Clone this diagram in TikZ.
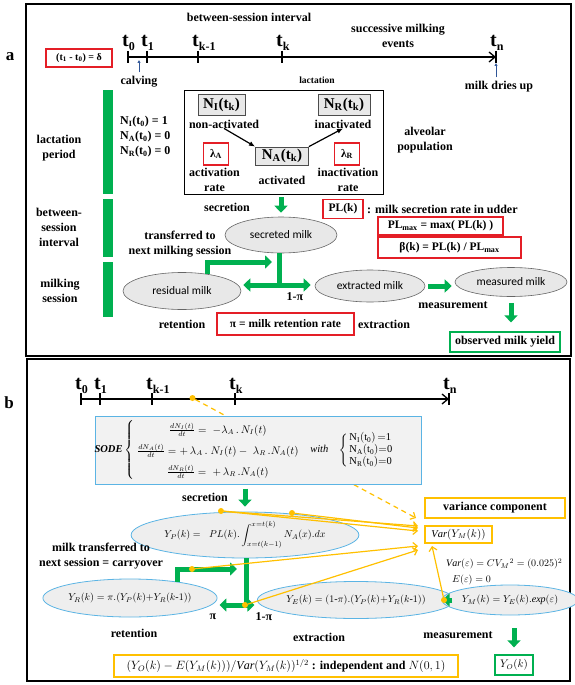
\documentclass[tikz,border=0pt]{standalone}
\usepackage{amsmath}
\usepackage{fontspec}
\setmainfont{Liberation Serif}
\newfontfamily\calfont{Carlito}
\usetikzlibrary{positioning,shapes.geometric,arrows.meta,calc}

\definecolor{verde}{RGB}{0,176,80}
\definecolor{giallo}{RGB}{255,192,0}
\definecolor{celeste}{RGB}{91,180,228}
\definecolor{grigio}{RGB}{232,232,232}
\definecolor{rosso}{RGB}{228,30,38}
\definecolor{blu}{RGB}{47,85,151}

\newcommand\tsub[1]{\raisebox{-4pt}{\fontsize{12}{12}\selectfont #1}}

\tikzset{
  lbl/.style={font=\bfseries\fontsize{12}{15}\selectfont, align=center, inner sep=0pt},
  tlbl/.style={font=\bfseries\fontsize{20}{22}\selectfont, inner sep=0pt, anchor=base west},
  rbox/.style={draw=rosso, line width=1.2pt, inner sep=0pt, font=\bfseries\fontsize{11.5}{13}\selectfont},
  nbox/.style={draw=black!70, fill=grigio, line width=0.8pt, inner sep=0pt, minimum height=21pt, font=\bfseries\fontsize{15}{17}\selectfont},
  latte/.style={ellipse, draw=black!60, fill=grigio, line width=0.6pt, inner sep=0pt, font=\calfont\fontsize{11.5}{13}\selectfont},
  latteb/.style={ellipse, draw=celeste, fill=grigio!75, line width=0.8pt, inner sep=0pt, font=\fontsize{10}{12}\selectfont},
  gline/.style={draw=verde, line width=5pt},
  garrow/.style={draw=verde, line width=5pt, line join=miter, -{Triangle[width=13pt,length=7pt]}},
  gdarrow/.style={draw=verde, line width=5pt, {Triangle[width=13pt,length=7pt]}-{Triangle[width=13pt,length=7pt]}},
  gbar/.style={fill=verde, minimum width=10pt, inner sep=0pt},
  yarrow/.style={draw=giallo, line width=1.2pt, -{Straight Barb[length=4pt,width=8pt]}},
  ydash/.style={draw=giallo, line width=1.2pt, dash pattern=on 5pt off 4pt, -{Straight Barb[length=4pt,width=8pt]}},
  ydot/.style={circle, fill=giallo, inner sep=0pt, minimum size=6pt},
  barrow/.style={draw=blu, line width=1pt, -{Latex[length=3pt,width=3.5pt]}},
  tline/.style={line width=1.3pt},
}

\begin{document}
\begin{tikzpicture}[x=1pt, y=-1pt]
  \useasboundingbox (0,0) rectangle (574,685);

  %pannello a
  \draw[line width=2.5pt] (26,4) rectangle (571,356);
  \node[lbl, font=\bfseries\fontsize{17}{19}\selectfont] (pa) at (10,57) {a};

  %linea del tempo
  \coordinate (a0) at (128,57);
  \coordinate (a1) at (147,57);
  \coordinate (ak1) at (198,57);
  \coordinate (ak) at (282,57);
  \coordinate (an) at (496,57);
  \draw[tline, -{Straight Barb[length=6pt,width=10pt]}] (a0) -- (an);
  \draw[tline] ([yshift=6pt]a0) -- ([yshift=-6pt]a0);
  \draw[tline] ([yshift=6pt]a1) -- ([yshift=-6pt]a1);
  \draw[tline] ([yshift=6pt]ak1) -- ([yshift=-6pt]ak1);
  \draw[tline] ([yshift=6pt]ak) -- ([yshift=-6pt]ak);
  \draw[tline] ([yshift=6pt]an) -- ([yshift=-6pt]an);
  \node[tlbl] (ta0) at (122,47) {t\tsub{0}};
  \node[tlbl] (ta1) at (141,47) {t\tsub{1}};
  \node[tlbl] (tak1) at (192,47) {t\tsub{k-1}};
  \node[tlbl] (tak) at (276,47) {t\tsub{k}};
  \node[tlbl] (tan) at (490,47) {t\tsub{n}};

  \node[lbl] (bsi) at (249,17) {between-session interval};
  \node[lbl] (sme) at (398,36) {successive milking\\events};
  \node[rbox, minimum width=66pt, minimum height=18pt, font=\bfseries\fontsize{10}{12}\selectfont] (delta) at (79,58) {(t\textsubscript{1} - t\textsubscript{0}) = δ};

  \node[lbl] (calv) at (139,82) {calving};
  \coordinate (cal) at (139,60);
  \draw[barrow, shorten <=4pt] (calv) -- (cal);
  \node[lbl] (mdu) at (499,87) {milk dries up};
  \coordinate (dry) at (496,63);
  \draw[barrow, shorten <=4pt] (mdu.north -| dry) -- (dry);

  %popolazione alveolare
  \node[lbl, font=\bfseries\fontsize{9.5}{11}\selectfont] (latt) at (317,80) {lactation};
  \node[draw, line width=0.8pt, minimum width=199pt, minimum height=104pt, inner sep=0pt] (pop) at (283.5,142) {};
  \node[nbox, minimum width=47pt] (ni) at (221.5,105) {N\textsubscript{I}(t\textsubscript{k})};
  \node[nbox, minimum width=52pt] (nr) at (344,105) {N\textsubscript{R}(t\textsubscript{k})};
  \node[nbox, minimum width=53pt, minimum height=18pt] (na) at (282,156) {N\textsubscript{A}(t\textsubscript{k})};
  \node[lbl] (nonatt) at (224,124) {non-activated};
  \node[lbl] (inatt) at (343,124) {inactivated};
  \node[lbl] (att) at (282,180) {activated};
  \node[rbox, minimum width=25pt, minimum height=22pt] (la) at (216,154) {λ\textsubscript{A}};
  \node[rbox, minimum width=25pt, minimum height=22pt] (lr) at (347,154) {λ\textsubscript{R}};
  \node[lbl] (attr) at (214.5,180) {activation\\rate};
  \node[lbl] (inattr) at (348,180) {inactivation\\rate};
  \draw[line width=1.2pt, -{Latex[length=6pt,width=5pt]}] (nonatt.south) -- (na.north west);
  \draw[line width=1.2pt, -{Latex[length=6pt,width=5pt]}] (na.north east) -- (inatt.south);
  \node[lbl] (alv) at (425,140) {alveolar\\population};
  \node[lbl, align=left, anchor=west] (init) at (120,137) {N\textsubscript{I}(t\textsubscript{0}) = 1\\N\textsubscript{A}(t\textsubscript{0}) = 0\\N\textsubscript{R}(t\textsubscript{0}) = 0};

  %fasi
  \node[gbar, minimum height=104pt] (bar1) at (108,142) {};
  \node[gbar, minimum height=58pt] (bar2) at (108,228) {};
  \node[gbar, minimum height=55pt] (bar3) at (108,289.5) {};
  \node[lbl] (lp) at (59,148) {lactation\\period};
  \node[lbl] (bs) at (59,227) {between-\\session\\interval};
  \node[lbl] (ms) at (60,291) {milking\\session};

  %latte
  \node[latte, minimum width=112pt, minimum height=36pt] (sec) at (281,235) {secreted milk};
  \node[latte, minimum width=118pt, minimum height=37pt] (res) at (182,291) {residual milk};
  \node[latte, minimum width=110pt, minimum height=32pt] (ext) at (370,286) {extracted milk};
  \node[latte, minimum width=112pt, minimum height=29pt] (mis) at (511,282) {measured milk};
  \node[lbl] (secr) at (227,207) {secretion};
  \draw[garrow, shorten <=3pt, shorten >=4pt] (pop.south -| sec.north) -- (sec.north);

  \node[rbox, minimum width=40pt, minimum height=19pt] (pl) at (343,209) {PL(k)};
  \node[lbl, anchor=west] (pld) at (367,209) {: milk secretion rate in udder};
  \node[rbox, minimum width=125pt, minimum height=18pt] (plmax) at (440.5,226) {PL\textsubscript{max} = max( PL(k) )};
  \node[rbox, minimum width=143pt, minimum height=21pt] (beta) at (449.5,247.5) {β(k)~=~PL(k) / PL\textsubscript{max}};

  %frecce verdi
  \coordinate (bif) at (279,285);
  \draw[gline] (sec.south -| bif) -- (bif);
  \draw[gdarrow, shorten <=2pt, shorten >=4pt] (res.east |- bif) -- (ext.west |- bif);
  \coordinate (car) at (272,262);
  \draw[garrow] (res.34) |- (car);
  \draw[garrow, shorten <=3pt, shorten >=3pt] (ext.east) -- (ext.east -| mis.west);
  \node[lbl] (unomp) at (295,297) {1-π};
  \node[lbl] (tras) at (180,244) {transferred to\\next milking session};
  \node[lbl] (meas) at (453,305) {measurement};
  \node[lbl, draw=verde, line width=1.2pt, minimum width=110pt, minimum height=20pt] (obs) at (505,342) {observed milk yield};
  \draw[garrow, shorten <=6pt, shorten >=9pt] (mis.south) -- (mis.south |- obs.north);
  \node[lbl] (ret) at (182,324) {retention};
  \node[rbox, minimum width=137pt, minimum height=22pt] (pi) at (285.5,324) {π = milk retention rate};
  \node[lbl] (extr) at (384,324) {extraction};

  %pannello b
  \draw[line width=2.5pt] (27,359) rectangle (570,681);
  \node[lbl, font=\bfseries\fontsize{17}{19}\selectfont] (pb) at (9,403) {b};

  \coordinate (b0) at (81,399);
  \coordinate (b1) at (100,399);
  \coordinate (bk1) at (152,399);
  \coordinate (bk) at (235,399);
  \coordinate (bn) at (449,399);
  \draw[tline, -{Straight Barb[length=6pt,width=10pt]}] (b0) -- (bn);
  \draw[tline] ([yshift=6pt]b0) -- ([yshift=-6pt]b0);
  \draw[tline] ([yshift=6pt]b1) -- ([yshift=-6pt]b1);
  \draw[tline] ([yshift=6pt]bk1) -- ([yshift=-6pt]bk1);
  \draw[tline] ([yshift=6pt]bk) -- ([yshift=-6pt]bk);
  \draw[tline] ([yshift=6pt]bn) -- ([yshift=-6pt]bn);
  \node[tlbl] (tb0) at (75,389) {t\tsub{0}};
  \node[tlbl] (tb1) at (94,389) {t\tsub{1}};
  \node[tlbl] (tbk1) at (146,389) {t\tsub{k-1}};
  \node[tlbl] (tbk) at (229,389) {t\tsub{k}};
  \node[tlbl] (tbn) at (443,389) {t\tsub{n}};

  %varianza
  \node[lbl, draw=giallo, line width=1.5pt, minimum width=140pt, minimum height=20pt] (vcomp) at (495,508) {variance component};
  \node[draw=giallo, line width=1.5pt, minimum width=67pt, minimum height=17pt, inner sep=0pt, font=\fontsize{10.5}{12}\selectfont] (var) at (458.5,534.5) {$\mathit{Var}(Y_M(k))$};
  \coordinate (vt0) at (416,518);
  \coordinate (vt1) at (418,526);
  \coordinate (vt2) at (418,531);
  \coordinate (vt3) at (418,528);
  \coordinate (vt4) at (418,546);
  \coordinate (vt5) at (418,550);
  \coordinate (vt6) at (432,546);

  \node[ydot] (pt) at (192.5,398) {};
  \draw[ydash] (pt) -- (vt0);

  %sistema
  \node[draw=celeste, fill=grigio!55, line width=1pt, minimum width=326pt, minimum height=68pt, inner sep=0pt] (sode) at (258,450) {};
  \node[inner sep=0pt, font=\fontsize{10.5}{12}\selectfont] (sodetxt) at (244,450) {\textbf{\textit{SODE}}\,$\left\{\renewcommand{\arraystretch}{1.75}\begin{array}{@{\;}c@{}}
      \frac{dN_I(t)}{dt} = \;-\lambda_A\,.\,N_I(t)\\
      \frac{dN_A(t)}{dt} = +\,\lambda_A\,.\;N_I(t) -\; \lambda_R\,.N_A(t)\\
      \frac{dN_R(t)}{dt} = \;+\,\lambda_R\,.N_A(t)
    \end{array}\right.$\quad\textit{with}\quad$\left\{\begin{array}{@{\,}l@{}}
      \mathrm{N_I(t_0)\,{=}1}\\ \mathrm{N_A(t_0){=}0}\\ \mathrm{N_R(t_0){=}0}
    \end{array}\right.$};

  \node[latteb, minimum width=180pt, minimum height=46pt] (yp) at (245,535) {$Y_P(k) = \;\; PL(k).\displaystyle\int_{x=t(k-1)}^{x=t(k)} N_A(x).dx$};
  \node[lbl] (secb) at (205,497) {secretion};
  \draw[garrow, shorten <=4pt, shorten >=5pt] (sode.south -| yp.north) -- (yp.north);

  \node[latteb, minimum width=136pt, minimum height=38pt] (yr) at (130,598) {$Y_R(k) = \pi.(Y_P(k){+}Y_R(k\mbox{-}1))$};
  \node[latteb, minimum width=151pt, minimum height=37pt] (ye) at (356,600) {$Y_E(k) = (1\mbox{-}\pi).(Y_P(k){+}Y_R(k\mbox{-}1))$};
  \node[latteb, minimum width=108pt, minimum height=30pt] (ym) at (510,600) {$Y_M(k) = Y_E(k).\mathit{exp}(\varepsilon)$};
  \node[lbl] (carb) at (101,556.5) {milk transferred to\\next session = carryover};

  %frecce verdi b
  \coordinate (ccar) at (237,569);
  \draw[garrow] (yr.19) |- (ccar);
  \coordinate (bifb) at (246,605);
  \draw[gline] (yp.south -| bifb) -- (bifb);
  \draw[gdarrow, shorten <=2pt, shorten >=2.5pt] (yr.east |- bifb) -- (ye.west |- bifb);
  \draw[garrow, shorten <=3pt, shorten >=1pt] (ye.east) -- (ye.east -| ym.west);
  \node[draw=verde, line width=1.3pt, minimum width=38pt, minimum height=20pt, inner sep=0pt, font=\fontsize{10.5}{12}\selectfont] (yo) at (514,665) {$Y_O(k)$};
  \draw[garrow, shorten <=13pt, shorten >=7pt] (yo.north |- ym.south) -- (yo.north);

  %frecce gialle
  \node[ydot] (yd1) at (221,511) {};
  \node[ydot] (yd2) at (292,513) {};
  \node[ydot] (yd3) at (192,569) {};
  \node[ydot] (yd4) at (245,605) {};
  \node[ydot] (yd5) at (444,600) {};
  \draw[yarrow] (yd1) -- (vt1);
  \draw[yarrow] (yd1) -- (vt2);
  \draw[yarrow] (yd2) -- (vt3);
  \draw[yarrow] (yd3) -- (vt4);
  \draw[yarrow] (yd4) -- (vt5);
  \draw[yarrow] (yd5) -- (vt6);

  \node[anchor=west, inner sep=0pt, font=\fontsize{10}{12}\selectfont] (vareps) at (446,564) {$\mathit{Var}(\varepsilon) = CV_M{}^{2} = (0.025)^2$};
  \node[anchor=west, inner sep=0pt, font=\fontsize{10}{12}\selectfont] (eeps) at (452,580) {$E(\varepsilon) = 0$};

  \node[lbl] (pib) at (213,617) {π};
  \node[lbl] (unomb) at (264,617) {1-π};
  \node[lbl] (retb) at (134,633) {retention};
  \node[lbl] (extb) at (319,637) {extraction};
  \node[lbl] (measb) at (458,635) {measurement};

  \node[draw=giallo, line width=1.3pt, minimum width=344pt, minimum height=22pt, inner sep=0pt, font=\fontsize{12}{14}\selectfont] (norm) at (286,666) {$(Y_O(k) - E(Y_M(k)))/\mathit{Var}(Y_M(k))^{1/2}$ \textbf{: independent and} $N(0,1)$};
\end{tikzpicture}
\end{document}
